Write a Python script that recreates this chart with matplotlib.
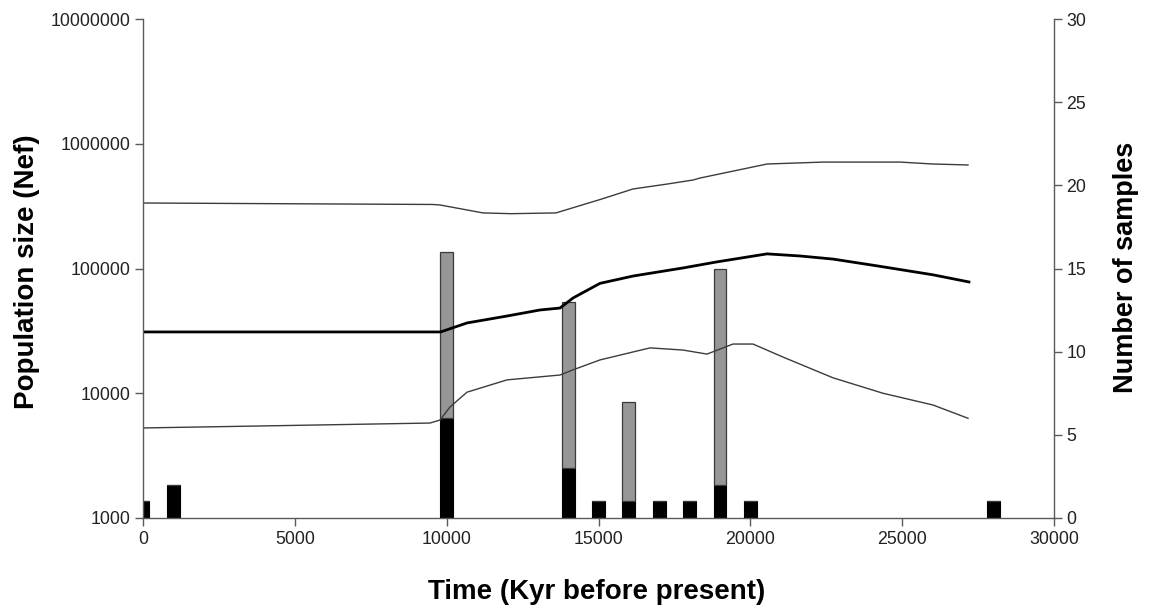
import numpy as np
import matplotlib
matplotlib.use('Agg')
import matplotlib.pyplot as plt

plt.rcParams['font.family'] = ['Liberation Sans', 'DejaVu Sans']

# Effective population size through time (median and bounds)
t_upper = [0, 9549, 9780, 11196, 12118, 13600, 14160, 15049, 16136, 17255, 18112, 18342,
           20549, 22393, 24928, 26015, 27168]
ne_upper = [335000, 326000, 323000, 279000, 275000, 279000, 307000, 357000, 434000, 475000,
            512000, 531000, 688000, 713000, 713000, 688000, 676000]

t_median = [0, 9800, 10670, 11987, 13073, 13732, 14160, 15049, 16136, 17782, 18902, 20549,
            21635, 22722, 24171, 26015, 27200]
ne_median = [31000, 31000, 36600, 41600, 46500, 48200, 58000, 76000, 87000, 101000, 113000,
             131000, 126000, 119000, 105000, 89000, 78000]

t_lower = [0, 3754, 9451, 9780, 10110, 10670, 11987, 13732, 14160, 15049, 16696, 17782,
           18573, 19429, 20088, 21076, 22722, 24368, 26015, 27168]
ne_lower = [5270, 5460, 5770, 6100, 7760, 10200, 12800, 14000, 15400, 18500, 23100, 22200,
            20600, 24800, 24800, 19500, 13300, 10000, 8050, 6300]

# Number of samples per age class
sample_age = [0, 1000, 10000, 14000, 15000, 16000, 17000, 18000, 19000, 20000, 28000]
n_black = [1, 2, 6, 3, 1, 1, 1, 1, 2, 1, 1]
n_gray = [0, 0, 10, 10, 0, 6, 0, 0, 13, 0, 0]

fig = plt.figure(figsize=(11.49, 6.11), dpi=100)
ax = fig.add_axes([143 / 1149, 93 / 611, 911 / 1149, 499 / 611])
ax2 = ax.twinx()
ax.set_zorder(2)
ax2.set_zorder(1)
ax.patch.set_visible(False)

# bars on the right axis
bw = 420
ax2.bar(sample_age, n_black, width=bw, color='black', edgecolor='black', linewidth=0.8)
ax2.bar(sample_age, n_gray, width=bw, bottom=n_black, color='#969696',
        edgecolor='#3a3a3a', linewidth=0.9)
ax2.set_ylim(0, 30)
ax2.set_yticks(range(0, 31, 5))

# curves on the log axis
ax.plot(t_upper, ne_upper, color='#3c3c3c', lw=1.0)
ax.plot(t_lower, ne_lower, color='#3c3c3c', lw=1.0)
ax.plot(t_median, ne_median, color='black', lw=2.0)
ax.set_yscale('log')
ax.set_ylim(1000, 1e7)
ax.set_xlim(0, 30000)
ax.set_yticks([1e3, 1e4, 1e5, 1e6, 1e7])
ax.set_yticklabels(['1000', '10000', '100000', '1000000', '10000000'])
ax.yaxis.set_minor_locator(matplotlib.ticker.NullLocator())
ax.set_xticks(range(0, 30001, 5000))

spine_c = '#5a5a5a'
for a in (ax, ax2):
    a.spines['top'].set_visible(False)
    for s in ('left', 'right', 'bottom'):
        a.spines[s].set_color(spine_c)
        a.spines[s].set_linewidth(1.0)
    a.tick_params(direction='out', length=6, width=1, color=spine_c,
                  labelsize=12.8, labelcolor='#222222', pad=3)
ax.spines['right'].set_visible(False)
ax2.spines['left'].set_visible(False)
ax2.spines['bottom'].set_visible(False)

ax.set_xlabel('Time (Kyr before present)', fontsize=20, fontweight='bold', va='center')
ax.xaxis.set_label_coords(0.498, -0.148)
ax.set_ylabel('Population size (Nef)', fontsize=20, fontweight='bold', va='center')
ax.yaxis.set_label_coords(-0.127, 0.493)
ax2.set_ylabel('Number of samples', fontsize=19.5, fontweight='bold', va='center',
               rotation=90)
ax2.yaxis.set_label_coords(1.079, 0.503)

fig.savefig('out.png', dpi=100)
